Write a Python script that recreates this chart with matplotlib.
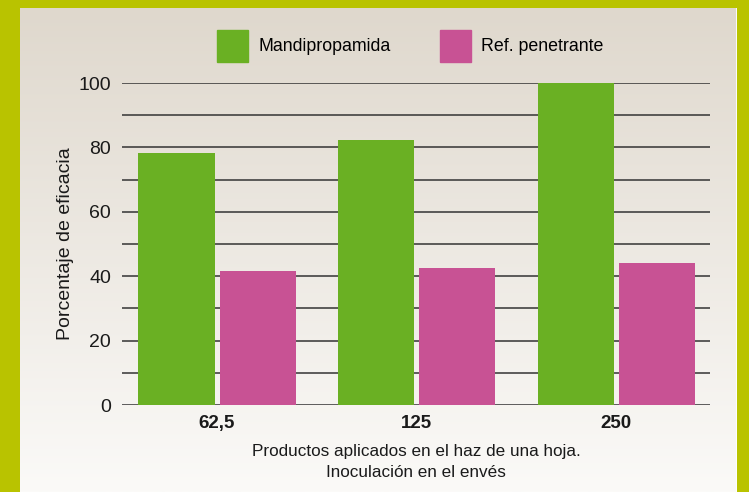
import matplotlib
matplotlib.use('Agg')
import matplotlib.pyplot as plt
import numpy as np
from matplotlib.patches import Patch

plt.rcParams['font.family'] = ['Liberation Sans', 'DejaVu Sans']

dosis = ['62,5', '125', '250']
mandipropamida = [78.3, 82.3, 100]
ref_penetrante = [41.6, 42.5, 44.1]

verde = '#6ab023'
rosa = '#c85294'
oliva = '#b9c300'

fig = plt.figure(figsize=(7.49, 4.92), dpi=100)
fig.patch.set_facecolor(oliva)

# fondo con degradado
fondo = fig.add_axes([20/749, 0, 717/749, 484/492])
grad = np.linspace(0, 1, 256).reshape(-1, 1)
c_top = np.array([0xdf, 0xd8, 0xcd]) / 255
c_bot = np.array([0xfb, 0xfa, 0xf8]) / 255
img = c_top[None, None, :] * (1 - grad[:, :, None]) + c_bot[None, None, :] * grad[:, :, None]
fondo.imshow(img, aspect='auto', extent=[0, 1, 0, 1])
fondo.axvline(1, color='white', lw=2)
fondo.set_axis_off()

ax = fig.add_axes([122/749, 1 - 405/492, 588/749, 322/492])
ax.patch.set_alpha(0)
x = np.arange(len(dosis))
ancho = 0.381
off = 0.203
ax.bar(x - off, mandipropamida, ancho, color=verde, zorder=3)
ax.bar(x + off, ref_penetrante, ancho, color=rosa, zorder=3)

for v in range(0, 101, 10):
    ax.axhline(v, color='#333333', lw=1.1, zorder=1)

ax.set_xlim(-0.476, 2.47)
ax.set_ylim(0, 100)
ax.set_yticks(range(0, 101, 20))
ax.set_yticklabels([str(v) for v in range(0, 101, 20)], fontsize=14, color='#1a1a1a')
ax.set_xticks(x)
ax.set_xticklabels(dosis, fontsize=13.5, fontweight='bold', color='#1a1a1a')
ax.tick_params(length=0, axis='y', pad=8)
ax.tick_params(length=0, axis='x', pad=7)
for s in ax.spines.values():
    s.set_visible(False)

ax.set_ylabel('Porcentaje de eficacia', fontsize=14, color='#1a1a1a', labelpad=3)
ax.set_xlabel('Productos aplicados en el haz de una hoja.\nInoculación en el envés',
              fontsize=12.3, color='#1a1a1a', labelpad=9, linespacing=1.5)

handles = [Patch(color=verde, label='Mandipropamida'),
           Patch(color=rosa, label='Ref. penetrante')]
fig.legend(handles=handles, loc='center', bbox_to_anchor=(0.548, 1 - 46/492), ncol=2,
           frameon=False, fontsize=12.8, handlelength=1.7, handleheight=2.4,
           handletextpad=0.6, columnspacing=2.8, borderpad=0)

fig.savefig('out.png', dpi=100, facecolor=fig.get_facecolor())
